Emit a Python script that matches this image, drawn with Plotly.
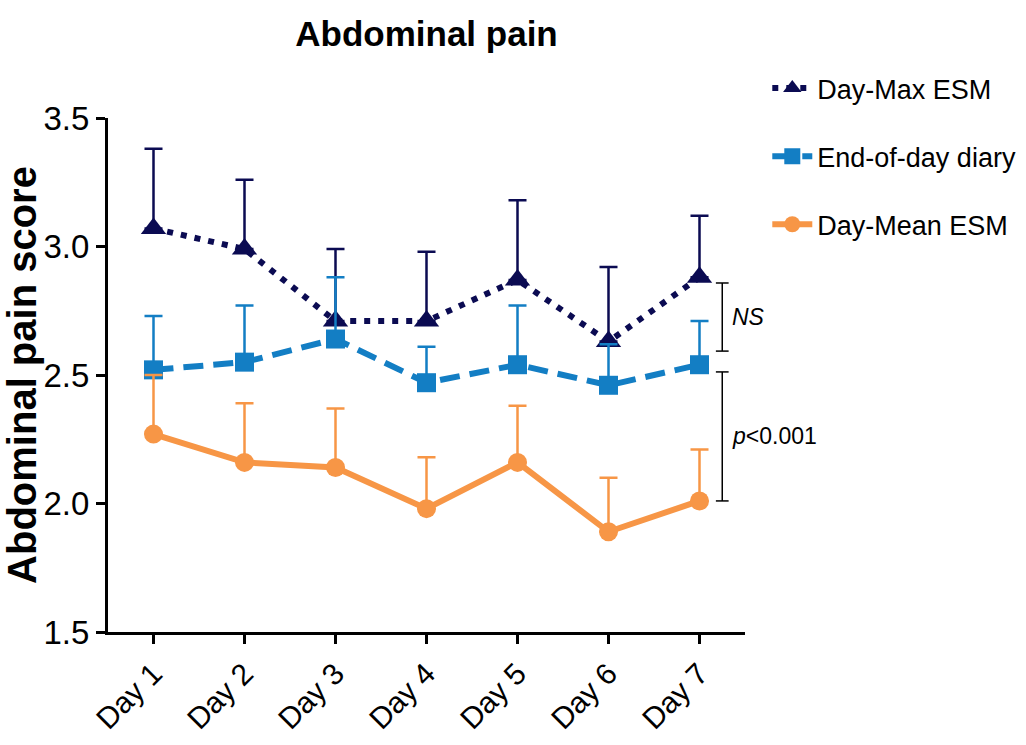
import plotly.graph_objects as go

days = ["Day 1", "Day 2", "Day 3", "Day 4", "Day 5", "Day 6", "Day 7"]

max_esm = [3.07, 2.99, 2.71, 2.71, 2.87, 2.63, 2.88]
max_esm_upper = [3.38, 3.26, 2.99, 2.98, 3.18, 2.92, 3.12]

diary = [2.52, 2.55, 2.64, 2.47, 2.54, 2.46, 2.54]
diary_upper = [2.73, 2.77, 2.88, 2.61, 2.77, 2.62, 2.71]

mean_esm = [2.27, 2.16, 2.14, 1.98, 2.16, 1.89, 2.01]
mean_esm_upper = [2.50, 2.39, 2.37, 2.18, 2.38, 2.10, 2.21]

NAVY = "#0b0b52"
BLUE = "#137ec4"
ORANGE = "#f79646"
FONT = "Liberation Sans, Arial, sans-serif"

def plus(upper, vals):
    return [u - v for u, v in zip(upper, vals)]

fig = go.Figure()

fig.add_trace(go.Scatter(
    x=days, y=max_esm, name="Day-Max ESM", legendgroup="a",
    mode="lines+markers",
    line=dict(color=NAVY, width=6, dash="6px,8px"),
    marker=dict(symbol="triangle-up", size=22, color=NAVY),
    error_y=dict(type="data", symmetric=False, array=plus(max_esm_upper, max_esm),
                 arrayminus=[0] * 7, color=NAVY, thickness=2.5, width=9),
))
fig.add_trace(go.Scatter(
    x=days, y=diary, name="End-of-day diary", legendgroup="b",
    mode="lines+markers",
    line=dict(color=BLUE, width=6, dash="20px,10px"),
    marker=dict(symbol="square", size=19, color=BLUE),
    error_y=dict(type="data", symmetric=False, array=plus(diary_upper, diary),
                 arrayminus=[0] * 7, color=BLUE, thickness=2.5, width=9),
))
fig.add_trace(go.Scatter(
    x=days, y=mean_esm, name="Day-Mean ESM", legendgroup="c",
    mode="lines+markers",
    line=dict(color=ORANGE, width=6),
    marker=dict(symbol="circle", size=19, color=ORANGE),
    error_y=dict(type="data", symmetric=False, array=plus(mean_esm_upper, mean_esm),
                 arrayminus=[0] * 7, color=ORANGE, thickness=2.5, width=9),
))

# significance brackets
BRACKET_X = 6.25
CAP = 0.07
brackets = [(2.593, 2.858, "<i>NS</i>"), (2.01, 2.512, "<i>p</i>&lt;0.001")]
for lo, hi, label in brackets:
    fig.add_shape(type="line", xref="x", yref="y", x0=BRACKET_X, x1=BRACKET_X, y0=lo, y1=hi,
                  line=dict(color="black", width=1.5))
    for yy in (lo, hi):
        fig.add_shape(type="line", xref="x", yref="y", x0=BRACKET_X - CAP, x1=BRACKET_X + CAP,
                      y0=yy, y1=yy, line=dict(color="black", width=1.5))
    fig.add_annotation(x=BRACKET_X + 0.08, y=(lo + hi) / 2, xref="x", yref="y", text=label,
                       showarrow=False, xanchor="left", yanchor="middle",
                       font=dict(family=FONT, size=23, color="black"))

fig.update_layout(
    width=1026, height=745,
    margin=dict(l=108, r=281, t=118, b=113, autoexpand=False),
    paper_bgcolor="white", plot_bgcolor="white",
    title=dict(text="<b>Abdominal pain</b>", x=426.5 / 1026,
               xanchor="center", y=0.955, yanchor="middle",
               font=dict(family=FONT, size=35, color="black")),
    font=dict(family=FONT, color="black"),
    legend=dict(x=1.035, y=1.105, xanchor="left", yanchor="top",
                font=dict(family=FONT, size=27, color="black"),
                tracegroupgap=30, itemwidth=40, bgcolor="rgba(0,0,0,0)"),
    showlegend=True,
)

fig.update_xaxes(
    range=[-0.5, 6.5], showline=True, linecolor="black", linewidth=3,
    ticks="outside", ticklen=9, tickwidth=3, tickcolor="black",
    tickangle=-45, tickfont=dict(family=FONT, size=30, color="black"),
    showgrid=False, zeroline=False,
)
fig.update_yaxes(
    range=[1.5, 3.5], tickvals=[1.5, 2.0, 2.5, 3.0, 3.5], tickformat=".1f",
    showline=True, linecolor="black", linewidth=3,
    ticks="outside", ticklen=9, tickwidth=3, tickcolor="black",
    tickfont=dict(family=FONT, size=33, color="black"),
    title=dict(text="<b>Abdominal pain score</b>", standoff=8,
               font=dict(family=FONT, size=40, color="black")),
    showgrid=False, zeroline=False,
)

fig.write_html("out.html", config={"displayModeBar": False},
               post_script="document.body.style.margin='0';document.body.style.padding='0';")
